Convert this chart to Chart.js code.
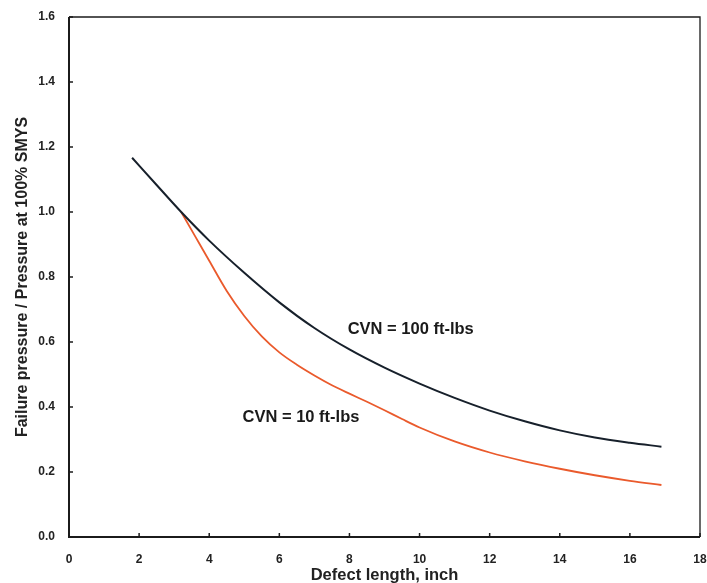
<!DOCTYPE html>
<html>
<head>
<meta charset="utf-8">
<script src="https://cdn.jsdelivr.net/npm/chart.js@4"></script>
<style>
    html, body { margin: 0; padding: 0; background: #ffffff; }
    #wrap { width: 707px; height: 583px; position: relative; }
</style>
</head>
<body>
<div id="wrap"><canvas id="pressureChart" width="707" height="583"></canvas></div>
<script>
// defect length (inch) and normalised failure pressure
const cvn100Length = [1.8, 2.5, 3.2, 4, 5, 6, 7, 8, 9, 10, 11, 12, 13, 14, 15, 16, 16.9];
const cvn100Ratio = [1.167, 1.083, 1.0, 0.912, 0.813, 0.722, 0.643, 0.577, 0.521, 0.472, 0.428, 0.389, 0.356, 0.328, 0.306, 0.29, 0.278];

const cvn10Length = [3.2, 3.6, 4, 4.5, 5, 5.5, 6, 6.5, 7, 7.5, 8, 8.5, 9, 9.5, 10, 11, 12, 13, 14, 15, 16, 16.9];
const cvn10Ratio = [1.0, 0.925, 0.85, 0.757, 0.68, 0.617, 0.568, 0.53, 0.497, 0.467, 0.441, 0.416, 0.39, 0.363, 0.337, 0.294, 0.26, 0.233, 0.21, 0.19, 0.173, 0.16];

const xTicks = [0, 2, 4, 6, 8, 10, 12, 14, 16, 18];
const yTicks = [0.0, 0.2, 0.4, 0.6, 0.8, 1.0, 1.2, 1.4, 1.6];

const curveLabels = ['CVN = 100 ft-lbs', 'CVN = 10 ft-lbs'];
const curveLabelX = [7.95, 4.95];
const curveLabelY = [0.638, 0.367];

const toPoints = (xs, ys) => xs.map((x, i) => ({ x: x, y: ys[i] }));

const FONT = '"Liberation Sans", Arial, sans-serif';

// box round the plot area plus short inward tick marks
const frameAndTicks = {
    id: 'frameAndTicks',
    afterDraw(chart) {
        const ctx = chart.ctx;
        const a = chart.chartArea;
        const xs = chart.scales.x;
        const ys = chart.scales.y;
        ctx.save();
        ctx.strokeStyle = '#1b1b1b';
        ctx.lineWidth = 1.3;
        ctx.beginPath();
        ctx.moveTo(a.left, a.top);
        ctx.lineTo(a.right, a.top);
        ctx.lineTo(a.right, a.bottom);
        ctx.stroke();
        ctx.lineWidth = 2;
        ctx.beginPath();
        ctx.moveTo(a.left, a.top);
        ctx.lineTo(a.left, a.bottom);
        ctx.lineTo(a.right, a.bottom);
        ctx.stroke();
        ctx.lineWidth = 1.5;
        ctx.beginPath();
        yTicks.forEach(v => {
            const py = ys.getPixelForValue(v);
            ctx.moveTo(a.left, py);
            ctx.lineTo(a.left + 4, py);
        });
        xTicks.forEach(v => {
            const px = xs.getPixelForValue(v);
            ctx.moveTo(px, a.bottom);
            ctx.lineTo(px, a.bottom - 4);
        });
        ctx.stroke();

        ctx.fillStyle = '#1a1a1a';
        ctx.font = 'bold 16.5px ' + FONT;
        ctx.textAlign = 'left';
        ctx.textBaseline = 'middle';
        curveLabels.forEach((t, i) => {
            ctx.fillText(t, xs.getPixelForValue(curveLabelX[i]), ys.getPixelForValue(curveLabelY[i]));
        });
        ctx.restore();
    }
};

new Chart(document.getElementById('pressureChart').getContext('2d'), {
    type: 'scatter',
    data: {
        datasets: [{
            label: curveLabels[0],
            data: toPoints(cvn100Length, cvn100Ratio),
            showLine: true,
            borderColor: '#17202b',
            borderWidth: 2,
            pointRadius: 0,
            cubicInterpolationMode: 'monotone'
        }, {
            label: curveLabels[1],
            data: toPoints(cvn10Length, cvn10Ratio),
            showLine: true,
            borderColor: '#ea5a2c',
            borderWidth: 1.8,
            pointRadius: 0,
            cubicInterpolationMode: 'monotone'
        }]
    },
    options: {
        responsive: false,
        animation: false,
        layout: { padding: { top: 17, right: 7, left: 0, bottom: 0 } },
        plugins: {
            legend: { display: false },
            tooltip: { enabled: false }
        },
        scales: {
            x: {
                type: 'linear',
                min: 0,
                max: 18,
                afterBuildTicks: (scale) => { scale.ticks = xTicks.map(v => ({ value: v })); },
                afterFit: (scale) => {
                    scale.height = 46;
                    scale.paddingLeft = 0;
                    scale.paddingRight = 0;
                },
                grid: { display: false, drawTicks: false },
                border: { display: false },
                ticks: {
                    padding: 15,
                    color: '#222',
                    font: { family: FONT, size: 12, weight: 'bold' },
                    callback: (v) => String(v)
                },
                title: {
                    display: true,
                    text: 'Defect length, inch',
                    color: '#222',
                    font: { family: FONT, size: 16.5, weight: 'bold' },
                    padding: { top: 0, bottom: -2 }
                }
            },
            y: {
                type: 'linear',
                min: 0,
                max: 1.6,
                afterBuildTicks: (scale) => { scale.ticks = yTicks.map(v => ({ value: v })); },
                afterFit: (scale) => {
                    scale.width = 69;
                    scale.paddingTop = 0;
                    scale.paddingBottom = 0;
                },
                grid: { display: false, drawTicks: false },
                border: { display: false },
                ticks: {
                    padding: 14,
                    color: '#222',
                    font: { family: FONT, size: 12, weight: 'bold' },
                    callback: (v) => v.toFixed(1)
                },
                title: {
                    display: true,
                    text: 'Failure pressure / Pressure at 100% SMYS',
                    color: '#222',
                    font: { family: FONT, size: 16, weight: 'bold' },
                    padding: { top: 13, bottom: 0 }
                }
            }
        }
    },
    plugins: [frameAndTicks]
});
</script>
</body>
</html>
